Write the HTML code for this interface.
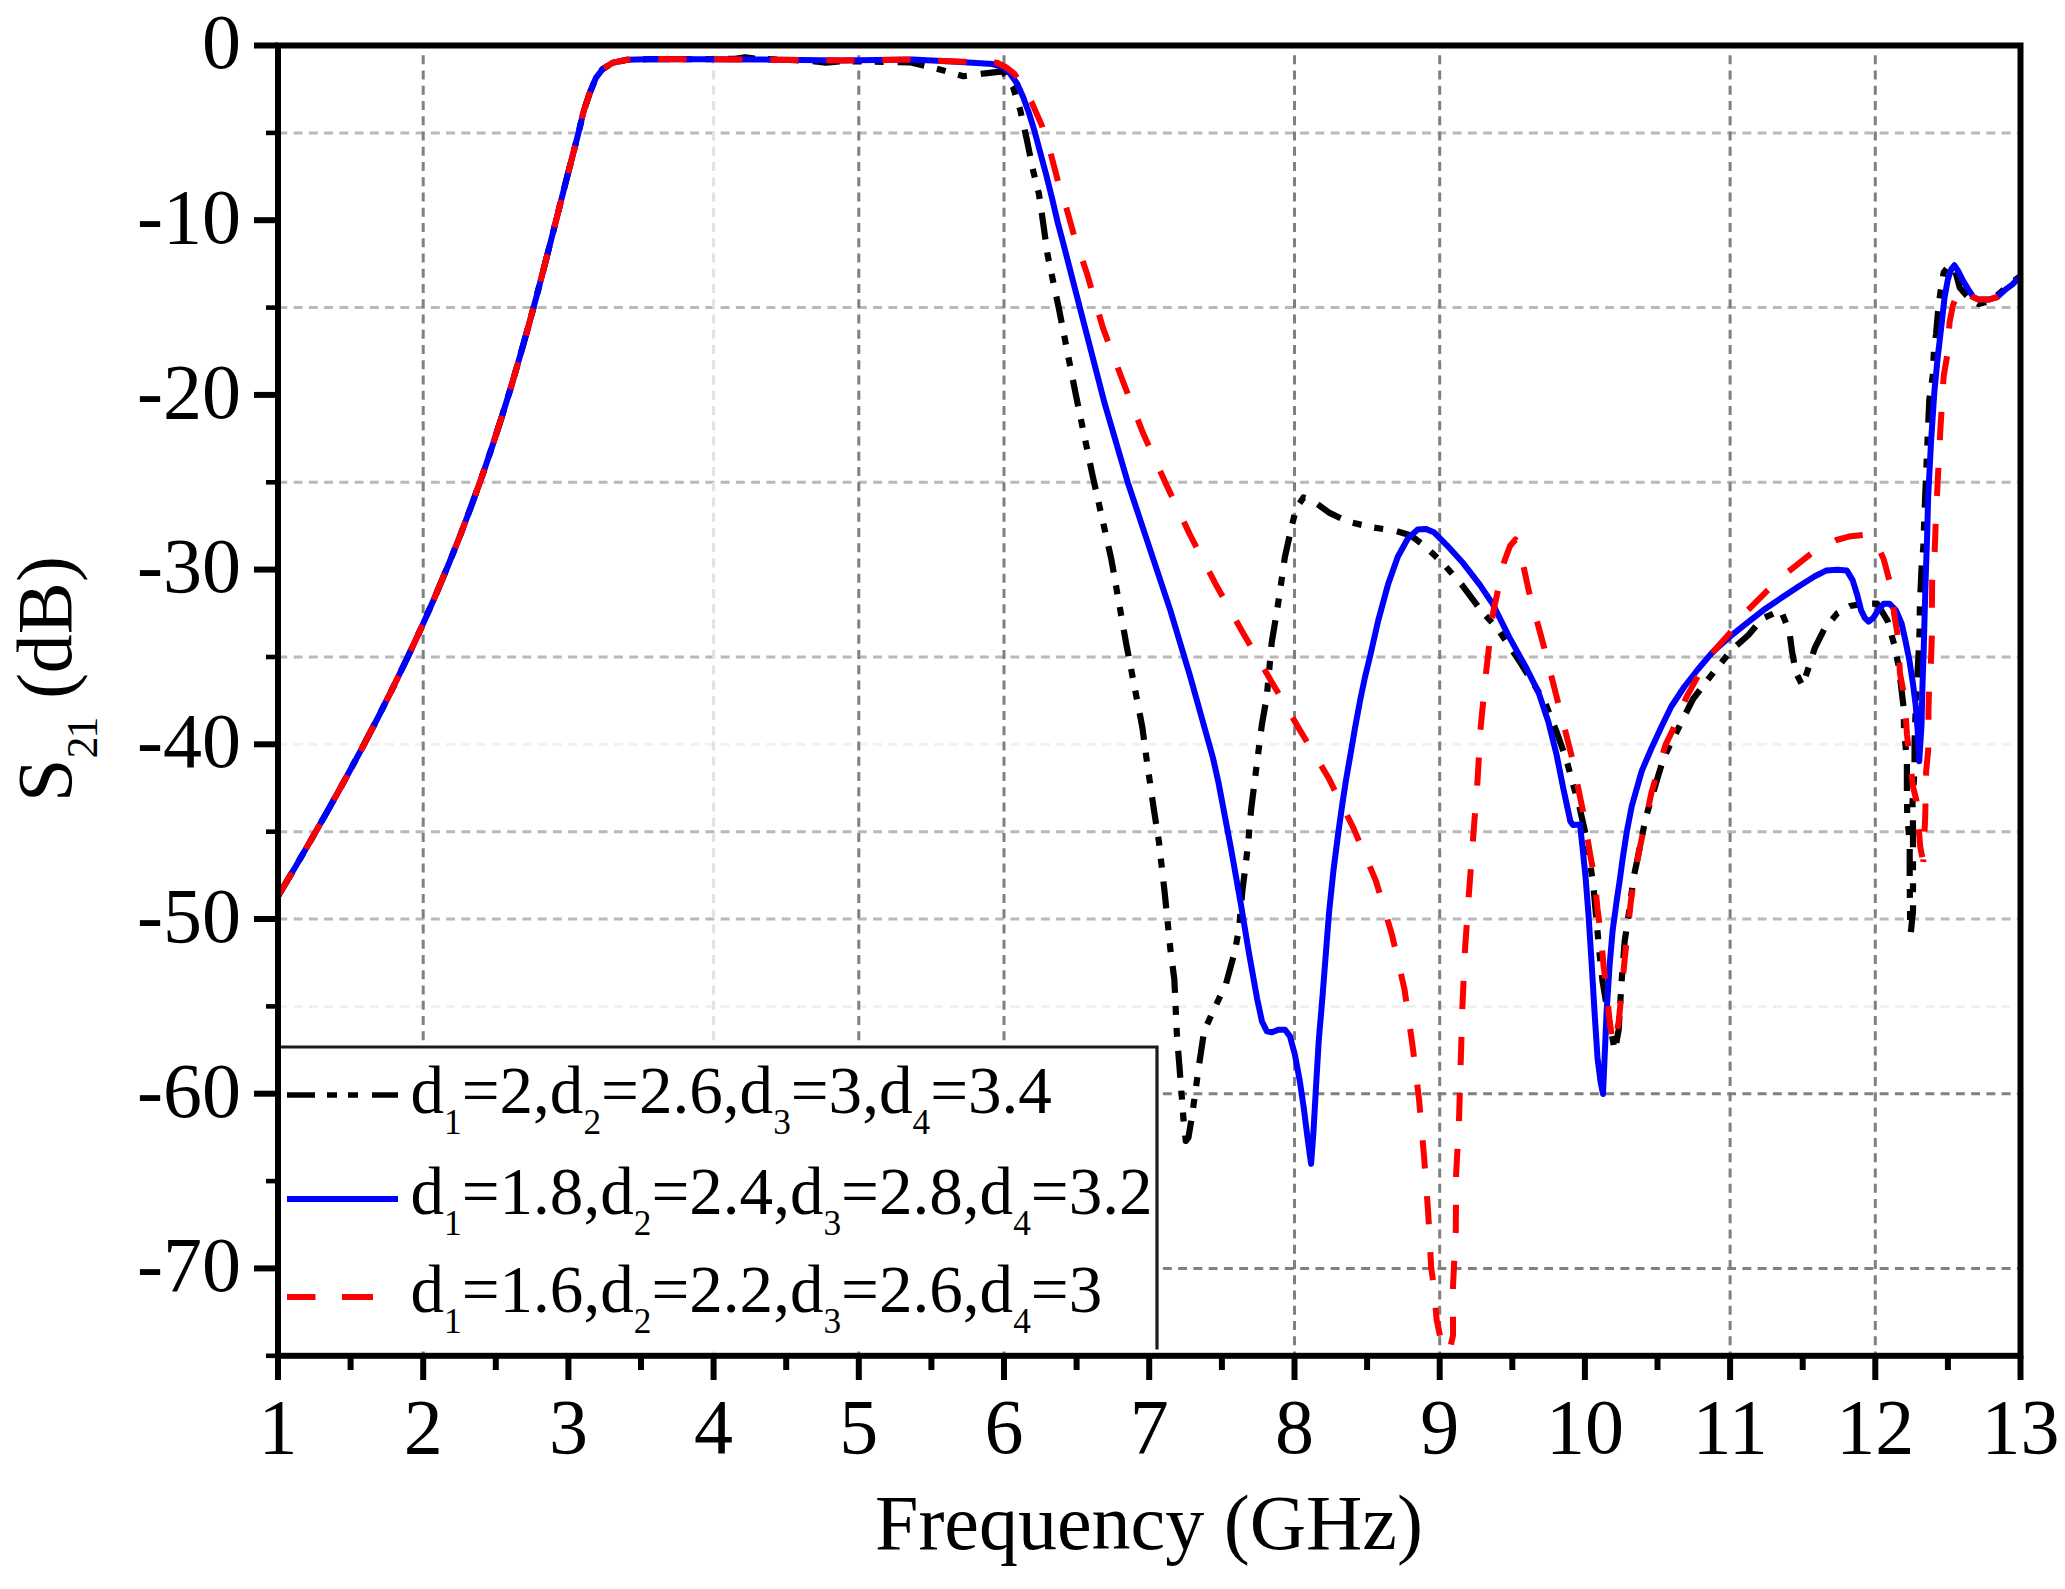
<!DOCTYPE html>
<html lang="en"><head><meta charset="utf-8"><title>S21 (dB) vs Frequency (GHz)</title>
<style>
html,body{margin:0;padding:0;background:#fff;}
body{width:2065px;height:1589px;overflow:hidden;}
svg{display:block;}
text{font-family:"Liberation Serif","Times New Roman",serif;fill:#000;}
.tk{font-size:78px;}
.lg{font-size:67.1px;}
.sub{font-size:35.3px;}
</style></head><body>
<svg width="2065" height="1589" viewBox="0 0 2065 1589">
<rect width="2065" height="1589" fill="#fff"/>
<defs><clipPath id="cp"><rect x="278.0" y="45.5" width="1742.5" height="1310.3"/></clipPath></defs>

<g fill="none" stroke-width="3" stroke-dasharray="8.9 6.35">
<line x1="278.4" y1="132.9" x2="2020.5" y2="132.9" stroke="#b9b9b9"/>
<line x1="278.4" y1="307.6" x2="2020.5" y2="307.6" stroke="#b9b9b9"/>
<line x1="278.4" y1="482.3" x2="2020.5" y2="482.3" stroke="#b9b9b9"/>
<line x1="278.4" y1="657.0" x2="2020.5" y2="657.0" stroke="#b9b9b9"/>
<line x1="278.4" y1="831.7" x2="2020.5" y2="831.7" stroke="#b9b9b9"/>
<line x1="278.4" y1="919.0" x2="2020.5" y2="919.0" stroke="#b9b9b9"/>
<line x1="278.4" y1="744.3" x2="2020.5" y2="744.3" stroke="#f1f1f1"/>
<line x1="278.4" y1="1006.4" x2="2020.5" y2="1006.4" stroke="#f1f1f1"/>
<line x1="278.4" y1="1093.7" x2="2020.5" y2="1093.7" stroke="#808080"/>
<line x1="278.4" y1="1268.4" x2="2020.5" y2="1268.4" stroke="#808080"/>
<line x1="423.2" y1="55.25" x2="423.2" y2="1355.8" stroke="#808080"/>
<line x1="858.8" y1="55.25" x2="858.8" y2="1355.8" stroke="#808080"/>
<line x1="1004.0" y1="55.25" x2="1004.0" y2="1355.8" stroke="#808080"/>
<line x1="1294.5" y1="55.25" x2="1294.5" y2="1355.8" stroke="#808080"/>
<line x1="1439.7" y1="55.25" x2="1439.7" y2="1355.8" stroke="#808080"/>
<line x1="1730.1" y1="55.25" x2="1730.1" y2="1355.8" stroke="#808080"/>
<line x1="1875.3" y1="55.25" x2="1875.3" y2="1355.8" stroke="#808080"/>
<line x1="713.6" y1="55.25" x2="713.6" y2="1355.8" stroke="#e2e2e2"/>
</g>
<g clip-path="url(#cp)" fill="none" stroke-linejoin="round" stroke-width="6">
<path d="M277.8 896.5 L295.6 866.5 L313.0 836.5 L330.1 806.5 L346.7 776.5 L362.9 746.5 L378.5 716.5 L393.5 686.5 L408.0 656.5 L421.9 626.5 L435.1 596.5 L447.7 566.5 L459.8 536.5 L471.1 506.5 L482.0 476.5 L492.2 446.5 L501.9 416.5 L511.2 386.5 L519.9 356.5 L528.4 326.5 L536.5 296.5 L544.3 266.5 L552.0 236.5 L559.6 206.5 L567.2 176.5 L575.0 146.5 L578.5 132.8 L583.6 111.4 L589.4 93.9 L595.9 77.9 L602.5 69.2 L612.6 62.7 L627.2 59.8 L656.2 59.0 L700.0 59.3 L735.0 58.8 L745.0 57.3 L756.0 58.8 L790.0 60.0 L812.0 61.0 L826.0 62.6 L842.0 61.2 L909.7 62.3 L921.4 64.9 L941.7 70.0 L963.5 76.2 L985.3 73.3 L1002.7 71.4 L1012.9 86.7 L1020.2 109.9 L1026.7 139.0 L1033.2 170.9 L1039.0 194.2 L1043.4 224.7 L1047.6 255.0 L1058.9 308.7 L1075.3 392.2 L1092.6 475.7 L1111.3 559.1 L1126.0 642.6 L1142.4 727.7 L1146.3 757.2 L1154.0 810.4 L1158.9 841.5 L1164.8 893.8 L1170.4 949.5 L1174.3 979.0 L1176.9 1034.6 L1179.5 1067.3 L1181.8 1096.8 L1183.5 1119.7 L1185.8 1141.0 L1188.4 1137.7 L1191.7 1118.0 L1194.9 1095.2 L1199.2 1064.0 L1204.1 1031.3 L1212.9 1011.7 L1226.0 983.9 L1234.9 951.1 L1239.1 928.2 L1242.4 890.6 L1245.7 864.4 L1248.0 844.7 L1251.2 808.7 L1254.5 782.6 L1257.6 758.0 L1261.9 724.5 L1266.8 696.6 L1271.7 642.6 L1276.6 613.2 L1279.9 591.9 L1284.8 557.5 L1291.3 528.0 L1296.2 508.4 L1303.5 497.5 L1311.0 499.5 L1329.0 512.6 L1347.1 521.4 L1371.7 527.3 L1394.6 530.6 L1410.9 535.5 L1425.7 546.9 L1442.0 562.3 L1461.7 584.6 L1481.3 610.8 L1497.7 628.8 L1520.0 662.0 L1545.1 702.4 L1556.6 731.9 L1566.4 759.7 L1573.0 784.2 L1579.5 807.2 L1587.6 843.2 L1593.7 889.5 L1599.3 951.1 L1602.5 981.0 L1604.6 993.4 L1609.0 1020.0 L1614.9 1050.8 L1618.7 1029.6 L1621.3 985.3 L1624.7 941.0 L1627.8 920.8 L1633.8 876.5 L1636.8 862.4 L1645.9 817.1 L1658.1 776.1 L1663.8 757.5 L1684.5 716.0 L1693.0 699.0 L1705.3 683.0 L1718.5 666.0 L1731.7 649.9 L1748.7 634.8 L1761.9 618.8 L1780.8 610.3 L1789.3 631.0 L1792.1 651.8 L1795.9 672.6 L1802.5 685.8 L1809.1 666.0 L1814.8 648.0 L1824.2 629.1 L1837.5 613.1 L1850.0 606.0 L1863.9 603.7 L1877.1 603.7 L1887.5 620.6 L1894.1 644.2 L1898.8 666.9 L1903.5 706.5 L1904.0 727.8 L1906.9 762.2 L1906.9 791.6 L1907.2 814.5 L1909.7 844.0 L1909.7 876.7 L1909.9 899.6 L1910.2 929.0 L1910.8 933.0 L1913.0 911.0 L1913.0 886.5 L1913.0 855.4 L1913.0 826.0 L1912.5 803.0 L1914.5 770.3 L1914.6 740.9 L1916.0 700.0 L1918.6 653.7 L1919.6 631.0 L1919.8 610.3 L1920.5 591.4 L1921.5 568.7 L1923.4 546.1 L1924.3 517.8 L1926.7 459.3 L1929.3 399.8 L1932.7 376.1 L1934.0 348.9 L1936.1 333.6 L1937.7 314.9 L1940.3 292.8 L1943.7 272.5 L1947.9 267.0 L1954.0 266.5 L1959.8 287.7 L1968.0 297.0 L1978.5 303.9 L1990.0 301.0 L2000.0 293.0 L2009.1 284.4 L2020.5 276.0" stroke="#000" stroke-width="6.2" stroke-dasharray="27 13 9 13 9 14" stroke-dashoffset="83.6"/>
<path d="M277.8 896.5 L295.6 866.5 L313.0 836.5 L330.1 806.5 L346.7 776.5 L362.9 746.5 L378.5 716.5 L393.5 686.5 L408.0 656.5 L421.9 626.5 L435.1 596.5 L447.7 566.5 L459.8 536.5 L471.1 506.5 L482.0 476.5 L492.2 446.5 L501.9 416.5 L511.2 386.5 L519.9 356.5 L528.4 326.5 L536.5 296.5 L544.3 266.5 L552.0 236.5 L559.6 206.5 L567.2 176.5 L575.0 146.5 L578.5 132.8 L583.6 111.4 L589.4 93.9 L595.9 77.9 L602.5 69.2 L612.6 62.7 L627.2 59.8 L656.2 59.0 L700.0 59.3 L760.0 59.5 L840.0 60.5 L912.6 59.5 L956.2 61.8 L992.5 64.1 L1002.7 67.0 L1010.0 73.6 L1017.2 83.8 L1023.0 96.8 L1028.9 112.8 L1034.7 131.7 L1040.5 153.5 L1046.3 175.3 L1052.1 198.5 L1057.9 223.2 L1063.7 245.0 L1083.5 321.8 L1104.7 403.7 L1127.7 482.2 L1147.3 541.1 L1170.2 609.9 L1189.9 675.4 L1212.8 757.2 L1218.5 782.6 L1230.9 848.0 L1240.8 903.7 L1248.9 952.8 L1257.1 998.6 L1262.0 1021.5 L1266.9 1031.3 L1271.9 1032.3 L1278.4 1029.7 L1284.9 1029.7 L1289.9 1036.2 L1294.8 1054.2 L1299.7 1080.4 L1303.6 1106.6 L1306.9 1132.8 L1309.5 1152.4 L1311.1 1163.9 L1313.4 1132.8 L1316.0 1087.0 L1318.7 1041.2 L1322.6 995.3 L1325.9 952.8 L1329.1 912.0 L1333.5 870.0 L1338.0 835.0 L1342.2 805.0 L1346.0 780.0 L1350.4 755.0 L1355.0 728.0 L1360.2 700.0 L1365.0 677.0 L1370.0 656.6 L1378.2 620.6 L1388.0 584.6 L1397.8 556.7 L1407.7 538.7 L1417.5 529.6 L1425.7 528.9 L1433.8 532.2 L1446.9 545.3 L1463.3 563.3 L1479.7 584.6 L1492.8 604.2 L1509.1 636.9 L1525.5 666.4 L1538.6 692.6 L1548.4 722.0 L1556.6 754.8 L1563.1 787.5 L1567.5 808.0 L1570.4 821.5 L1573.0 825.0 L1580.0 824.5 L1582.4 846.3 L1585.5 876.5 L1588.5 914.8 L1591.5 961.1 L1594.5 1011.5 L1597.5 1057.8 L1600.6 1082.0 L1603.0 1094.0 L1604.6 1057.8 L1606.6 1011.5 L1609.6 965.2 L1612.6 930.9 L1616.7 900.7 L1619.7 880.6 L1622.7 858.4 L1626.7 832.2 L1631.8 806.0 L1641.7 771.1 L1651.5 748.2 L1661.3 727.0 L1671.3 706.5 L1684.5 686.5 L1697.8 669.5 L1712.9 651.8 L1729.9 636.7 L1748.7 621.6 L1765.7 608.4 L1782.7 597.0 L1799.7 585.7 L1814.8 576.3 L1826.1 570.6 L1837.5 569.7 L1846.9 570.6 L1852.6 580.1 L1857.3 595.2 L1861.1 610.3 L1864.8 617.8 L1868.6 621.6 L1873.3 617.8 L1878.0 610.3 L1883.7 603.7 L1889.4 603.7 L1896.0 610.3 L1901.6 623.5 L1905.4 640.5 L1909.2 659.3 L1913.0 683.9 L1915.8 706.5 L1917.7 731.1 L1919.2 761.3 L1921.5 725.4 L1922.4 687.7 L1923.7 649.9 L1924.7 612.1 L1925.8 574.4 L1927.1 536.6 L1928.1 498.4 L1931.0 442.3 L1934.4 391.4 L1937.7 357.4 L1941.1 328.5 L1944.5 297.9 L1947.9 279.3 L1951.3 269.1 L1954.4 265.3 L1958.1 270.8 L1963.2 281.0 L1968.3 289.4 L1973.4 297.1 L1978.5 299.6 L1988.7 299.6 L1997.2 297.1 L2005.7 289.4 L2012.5 284.4 L2020.5 276.0" stroke="#0000ff"/>
<path d="M1923.2 862.0 L1925.2 817.0 L1926.1 772.0 L1928.2 750.0 L1928.5 709.8 L1929.0 691.4 L1930.9 663.1 L1931.9 634.8 L1931.9 606.5 L1932.2 580.1 L1934.7 550.8 L1935.6 525.3 L1937.7 481.4 L1940.6 425.3 L1943.7 376.1 L1947.1 356.0 L1949.6 322.0 L1953.0 305.0 L1956.0 297.5 L1959.0 291.0 L1962.0 288.0 L1966.0 290.5 L1971.7 296.5 L1978.5 299.6 L1988.7 299.6 L1997.2 297.1 L2005.7 289.4 L2012.5 284.4 L2020.5 276.0" stroke="#ff0000" stroke-dasharray="28.2 27.8" stroke-dashoffset="25.6"/>
<path d="M277.8 896.5 L295.6 866.5 L313.0 836.5 L330.1 806.5 L346.7 776.5 L362.9 746.5 L378.5 716.5 L393.5 686.5 L408.0 656.5 L421.9 626.5 L435.1 596.5 L447.7 566.5 L459.8 536.5 L471.1 506.5 L482.0 476.5 L492.2 446.5 L501.9 416.5 L511.2 386.5 L519.9 356.5 L528.4 326.5 L536.5 296.5 L544.3 266.5 L552.0 236.5 L559.6 206.5 L567.2 176.5 L575.0 146.5 L578.5 132.8 L583.6 111.4 L589.4 93.9 L595.9 77.9 L602.5 69.2 L612.6 62.7 L627.2 59.8 L656.2 59.0 L700.0 59.3 L760.0 59.5 L840.0 60.5 L912.6 59.5 L956.2 61.5 L997.0 62.7 L1005.6 67.0 L1014.3 73.6 L1022.0 85.0 L1031.8 102.6 L1042.0 125.9 L1050.7 153.5 L1057.9 181.1 L1066.6 208.7 L1073.9 234.9 L1086.7 272.7 L1103.1 328.4 L1122.7 380.8 L1143.0 433.1 L1166.0 483.9 L1189.9 534.6 L1215.4 583.7 L1242.9 632.8 L1271.7 681.9 L1299.5 729.4 L1328.4 777.7 L1353.6 828.4 L1375.9 880.8 L1392.0 934.8 L1404.4 988.8 L1412.6 1046.0 L1419.1 1100.0 L1424.1 1157.3 L1428.2 1213.0 L1431.2 1267.6 L1433.3 1282.9 L1436.7 1320.2 L1440.9 1340.0 L1444.0 1375.0 L1446.5 1420.0" stroke="#ff0000" stroke-dasharray="28.2 27.8" stroke-dashoffset="0.5"/>
<path d="M1446.5 1420.0 L1448.5 1375.0 L1449.9 1349.3 L1453.0 1335.5 L1453.0 1286.3 L1455.8 1229.6 L1456.1 1174.9 L1459.1 1118.1 L1460.7 1062.4 L1462.4 1006.8 L1465.0 949.5 L1468.9 893.8 L1473.1 838.3 L1477.4 782.6 L1480.7 727.0 L1486.2 671.3 L1492.8 614.0 L1504.2 561.7 L1510.0 546.0 L1515.5 539.5 L1520.5 552.0 L1528.8 591.1 L1543.5 645.1 L1557.6 700.8 L1571.3 754.8 L1582.8 810.4 L1590.5 856.4 L1594.5 878.0 L1597.5 908.8 L1600.6 932.0 L1603.6 966.0 L1606.6 990.0 L1609.6 1021.0 L1612.6 1041.7 L1613.9 1045.0 L1616.0 1036.0 L1618.7 1021.6 L1620.7 1001.4 L1624.7 959.1 L1630.8 902.0 L1635.0 872.0 L1640.1 846.4 L1651.5 792.4 L1665.7 744.3 L1673.2 729.2 L1686.4 697.1 L1697.8 676.3 L1714.7 649.9 L1729.9 632.9 L1747.8 610.3 L1767.6 590.4 L1788.4 571.6 L1811.0 553.6 L1836.5 540.0 L1848.8 536.6 L1865.8 534.7 L1875.0 540.0 L1883.7 559.3 L1891.3 587.6 L1894.1 614.0 L1898.8 642.4 L1899.8 672.6 L1904.5 697.1 L1907.0 735.0 L1913.0 786.7 L1916.3 799.8 L1920.3 847.2 L1923.2 862.0" stroke="#ff0000" stroke-dasharray="28.2 27.8" stroke-dashoffset="36.5"/>
</g>
<rect x="279" y="1047" width="878" height="302.4000000000001" fill="#fff" stroke="none"/>
<path d="M279 1047 H1157 V1349.4" fill="none" stroke="#1a1a1a" stroke-width="3.2"/>
<line x1="287" y1="1095" x2="398" y2="1095" stroke="#000" stroke-width="5.6" stroke-dasharray="28 12 10 11 10 14 30"/>
<line x1="287" y1="1199" x2="398" y2="1199" stroke="#0000ff" stroke-width="6"/>
<line x1="287" y1="1297" x2="373.5" y2="1297" stroke="#ff0000" stroke-width="6" stroke-dasharray="28.5 26.5 31 30"/>
<text class="lg" x="410.5" y="1112.5">d<tspan class="sub" dy="21">1</tspan><tspan dy="-21">=2</tspan>,d<tspan class="sub" dy="21">2</tspan><tspan dy="-21">=2.6</tspan>,d<tspan class="sub" dy="21">3</tspan><tspan dy="-21">=3</tspan>,d<tspan class="sub" dy="21">4</tspan><tspan dy="-21">=3.4</tspan></text>
<text class="lg" x="410.5" y="1213.5">d<tspan class="sub" dy="21">1</tspan><tspan dy="-21">=1.8</tspan>,d<tspan class="sub" dy="21">2</tspan><tspan dy="-21">=2.4</tspan>,d<tspan class="sub" dy="21">3</tspan><tspan dy="-21">=2.8</tspan>,d<tspan class="sub" dy="21">4</tspan><tspan dy="-21">=3.2</tspan></text>
<text class="lg" x="410.5" y="1311.5">d<tspan class="sub" dy="21">1</tspan><tspan dy="-21">=1.6</tspan>,d<tspan class="sub" dy="21">2</tspan><tspan dy="-21">=2.2</tspan>,d<tspan class="sub" dy="21">3</tspan><tspan dy="-21">=2.6</tspan>,d<tspan class="sub" dy="21">4</tspan><tspan dy="-21">=3</tspan></text>
<rect x="278.0" y="45.5" width="1742.5" height="1310.3" fill="none" stroke="#000" stroke-width="6"/>
<g stroke="#000" stroke-width="6">
<line x1="278.0" y1="1355.8" x2="278.0" y2="1380"/>
<line x1="423.2" y1="1355.8" x2="423.2" y2="1380"/>
<line x1="568.4" y1="1355.8" x2="568.4" y2="1380"/>
<line x1="713.6" y1="1355.8" x2="713.6" y2="1380"/>
<line x1="858.8" y1="1355.8" x2="858.8" y2="1380"/>
<line x1="1004.0" y1="1355.8" x2="1004.0" y2="1380"/>
<line x1="1149.2" y1="1355.8" x2="1149.2" y2="1380"/>
<line x1="1294.5" y1="1355.8" x2="1294.5" y2="1380"/>
<line x1="1439.7" y1="1355.8" x2="1439.7" y2="1380"/>
<line x1="1584.9" y1="1355.8" x2="1584.9" y2="1380"/>
<line x1="1730.1" y1="1355.8" x2="1730.1" y2="1380"/>
<line x1="1875.3" y1="1355.8" x2="1875.3" y2="1380"/>
<line x1="2020.5" y1="1355.8" x2="2020.5" y2="1380"/>
<line x1="350.6" y1="1355.8" x2="350.6" y2="1370"/>
<line x1="495.8" y1="1355.8" x2="495.8" y2="1370"/>
<line x1="641.0" y1="1355.8" x2="641.0" y2="1370"/>
<line x1="786.2" y1="1355.8" x2="786.2" y2="1370"/>
<line x1="931.4" y1="1355.8" x2="931.4" y2="1370"/>
<line x1="1076.6" y1="1355.8" x2="1076.6" y2="1370"/>
<line x1="1221.9" y1="1355.8" x2="1221.9" y2="1370"/>
<line x1="1367.1" y1="1355.8" x2="1367.1" y2="1370"/>
<line x1="1512.3" y1="1355.8" x2="1512.3" y2="1370"/>
<line x1="1657.5" y1="1355.8" x2="1657.5" y2="1370"/>
<line x1="1802.7" y1="1355.8" x2="1802.7" y2="1370"/>
<line x1="1947.9" y1="1355.8" x2="1947.9" y2="1370"/>
<line x1="254" y1="45.5" x2="278.0" y2="45.5"/>
<line x1="254" y1="220.2" x2="278.0" y2="220.2"/>
<line x1="254" y1="394.9" x2="278.0" y2="394.9"/>
<line x1="254" y1="569.6" x2="278.0" y2="569.6"/>
<line x1="254" y1="744.3" x2="278.0" y2="744.3"/>
<line x1="254" y1="919.0" x2="278.0" y2="919.0"/>
<line x1="254" y1="1093.7" x2="278.0" y2="1093.7"/>
<line x1="254" y1="1268.4" x2="278.0" y2="1268.4"/>
<line x1="266" y1="132.9" x2="278.0" y2="132.9" stroke-width="4.6"/>
<line x1="266" y1="307.6" x2="278.0" y2="307.6" stroke-width="4.6"/>
<line x1="266" y1="482.3" x2="278.0" y2="482.3" stroke-width="4.6"/>
<line x1="266" y1="657.0" x2="278.0" y2="657.0" stroke-width="4.6"/>
<line x1="266" y1="831.7" x2="278.0" y2="831.7" stroke-width="4.6"/>
<line x1="266" y1="1006.4" x2="278.0" y2="1006.4" stroke-width="4.6"/>
<line x1="266" y1="1181.1" x2="278.0" y2="1181.1" stroke-width="4.6"/>
<line x1="266" y1="1355.8" x2="278.0" y2="1355.8" stroke-width="4.6"/>
</g>
<text class="tk" x="278.0" y="1453" text-anchor="middle">1</text>
<text class="tk" x="423.2" y="1453" text-anchor="middle">2</text>
<text class="tk" x="568.4" y="1453" text-anchor="middle">3</text>
<text class="tk" x="713.6" y="1453" text-anchor="middle">4</text>
<text class="tk" x="858.8" y="1453" text-anchor="middle">5</text>
<text class="tk" x="1004.0" y="1453" text-anchor="middle">6</text>
<text class="tk" x="1149.2" y="1453" text-anchor="middle">7</text>
<text class="tk" x="1294.5" y="1453" text-anchor="middle">8</text>
<text class="tk" x="1439.7" y="1453" text-anchor="middle">9</text>
<text class="tk" x="1584.9" y="1453" text-anchor="middle">10</text>
<text class="tk" x="1730.1" y="1453" text-anchor="middle">11</text>
<text class="tk" x="1875.3" y="1453" text-anchor="middle">12</text>
<text class="tk" x="2020.5" y="1453" text-anchor="middle">13</text>
<text class="tk" x="241" y="68.3" text-anchor="end">0</text>
<text class="tk" x="241" y="243.0" text-anchor="end">-10</text>
<text class="tk" x="241" y="417.7" text-anchor="end">-20</text>
<text class="tk" x="241" y="592.4" text-anchor="end">-30</text>
<text class="tk" x="241" y="767.1" text-anchor="end">-40</text>
<text class="tk" x="241" y="941.8" text-anchor="end">-50</text>
<text class="tk" x="241" y="1116.5" text-anchor="end">-60</text>
<text class="tk" x="241" y="1291.2" text-anchor="end">-70</text>
<text class="tk" x="1149" y="1548.5" text-anchor="middle">Frequency (GHz)</text>
<text class="tk" transform="translate(70.5 802) rotate(-90)" x="0" y="0">S<tspan font-size="44px" letter-spacing="-2" dy="26">21</tspan><tspan dy="-26"> (dB)</tspan></text>
</svg></body></html>
